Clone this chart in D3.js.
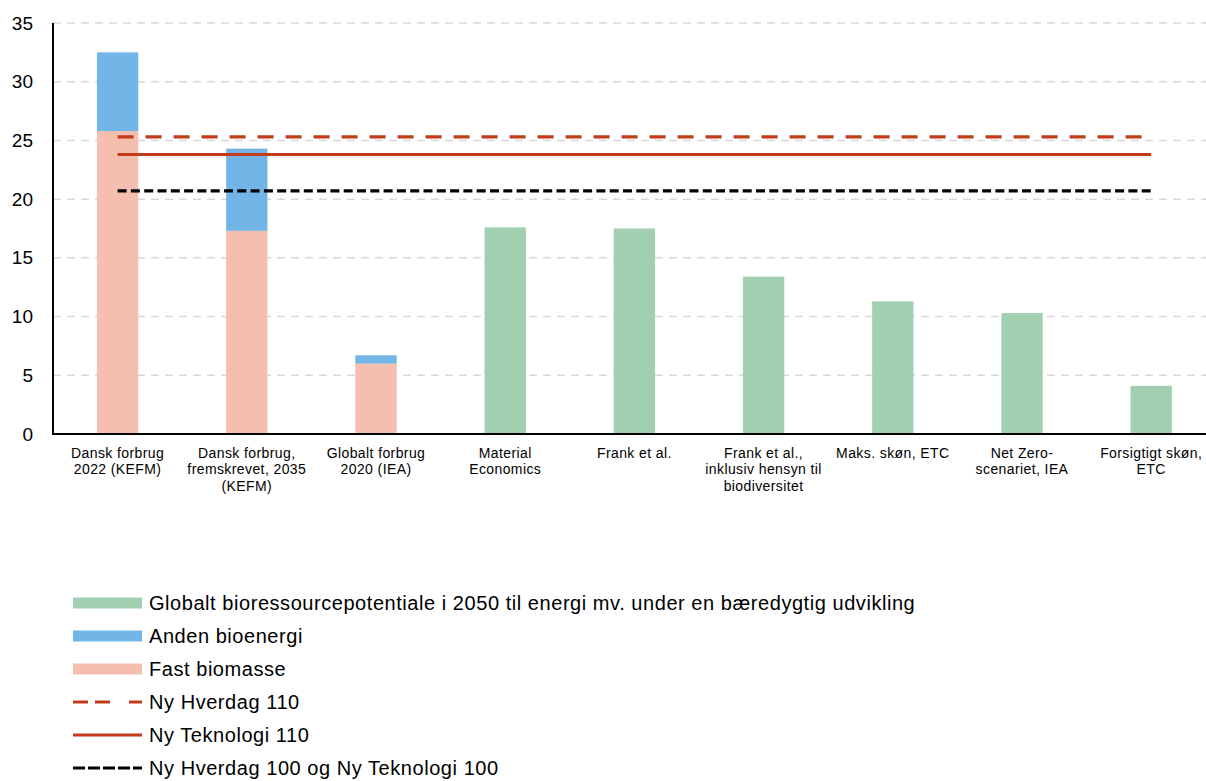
<!DOCTYPE html>
<html>
<head>
<meta charset="utf-8">
<script src="https://cdn.jsdelivr.net/npm/d3@7"></script>
<style>
  body { margin: 0; background: #fff; }
  svg { font-family: "Liberation Sans", Arial, sans-serif; }
</style>
</head>
<body>
<div id="chart"></div>
<script>
// Data
const categories = [
  ['Dansk forbrug', '2022 (KEFM)'],
  ['Dansk forbrug,', 'fremskrevet, 2035', '(KEFM)'],
  ['Globalt forbrug', '2020 (IEA)'],
  ['Material', 'Economics'],
  ['Frank et al.'],
  ['Frank et al.,', 'inklusiv hensyn til', 'biodiversitet'],
  ['Maks. skøn, ETC'],
  ['Net Zero-', 'scenariet, IEA'],
  ['Forsigtigt skøn,', 'ETC']
];
const fastBiomasse = [25.8, 17.3, 6.0, 0, 0, 0, 0, 0, 0];
const andenBioenergi = [6.7, 7.0, 0.7, 0, 0, 0, 0, 0, 0];
const globaltPotentiale = [0, 0, 0, 17.6, 17.5, 13.4, 11.3, 10.3, 4.1];
const nyHverdag110 = 25.3;
const nyTeknologi110 = 23.8;
const ny100 = 20.7;
const yTicks = [0, 5, 10, 15, 20, 25, 30, 35];

const COLORS = { green: '#a1d0b1', blue: '#73b5e6', pink: '#f5bfb0', red: '#c23b1a', black: '#000' };

const W = 1206, H = 781;
const margin = { left: 53, top: 23, bottom: 434 };

const svg = d3.select('#chart').append('svg').attr('width', W).attr('height', H);

const x = d3.scaleBand()
  .domain(categories.map((c, i) => i))
  .range([margin.left, margin.left + 9 * 129.2])
  .paddingInner(0.68).paddingOuter(0.34);

const y = d3.scaleLinear().domain([0, 35]).range([margin.bottom, margin.top]);

// Gridlines
svg.append('g').selectAll('line')
  .data(yTicks.slice(1))
  .join('line')
  .attr('x1', margin.left).attr('x2', W)
  .attr('y1', d => y(d)).attr('y2', d => y(d))
  .attr('stroke', '#d9d9d9').attr('stroke-width', 1.5)
  .attr('stroke-dasharray', '8,6');

// Bars
const bars = svg.append('g');
categories.forEach((c, i) => {
  const bx = x(i), bw = x.bandwidth();
  if (fastBiomasse[i] > 0) {
    bars.append('rect').attr('x', bx).attr('width', bw)
      .attr('y', y(fastBiomasse[i])).attr('height', y(0) - y(fastBiomasse[i]))
      .attr('fill', COLORS.pink);
  }
  if (andenBioenergi[i] > 0) {
    const top = fastBiomasse[i] + andenBioenergi[i];
    bars.append('rect').attr('x', bx).attr('width', bw)
      .attr('y', y(top)).attr('height', y(fastBiomasse[i]) - y(top))
      .attr('fill', COLORS.blue);
  }
  if (globaltPotentiale[i] > 0) {
    bars.append('rect').attr('x', bx).attr('width', bw)
      .attr('y', y(globaltPotentiale[i])).attr('height', y(0) - y(globaltPotentiale[i]))
      .attr('fill', COLORS.green);
  }
});

// Reference lines (from first to last category centre)
const x0 = x(0) + x.bandwidth() / 2;
const x1 = x(categories.length - 1) + x.bandwidth() / 2;
const refLines = [
  { v: nyHverdag110, color: COLORS.red, dash: '16,12' },
  { v: nyTeknologi110, color: COLORS.red, dash: null },
  { v: ny100, color: COLORS.black, dash: '9,4.3' }
];
svg.append('g').selectAll('line')
  .data(refLines)
  .join('line')
  .attr('x1', x0).attr('x2', x1)
  .attr('y1', d => y(d.v)).attr('y2', d => y(d.v))
  .attr('stroke', d => d.color).attr('stroke-width', 3.2)
  .attr('stroke-dasharray', d => d.dash);

// Axes
const yAxis = svg.append('g')
  .attr('transform', `translate(${margin.left},0)`)
  .call(d3.axisLeft(y).tickValues(yTicks).tickSize(0).tickPadding(20));
yAxis.select('.domain').attr('stroke', '#000').attr('stroke-width', 2)
  .attr('d', `M0,${y(35)}V${y(0)}`);
yAxis.selectAll('text').attr('font-size', '19px').attr('fill', '#000')
  .attr('font-family', '"Liberation Sans", Arial, sans-serif');

svg.append('line')
  .attr('x1', margin.left - 1).attr('x2', W)
  .attr('y1', y(0)).attr('y2', y(0))
  .attr('stroke', '#000').attr('stroke-width', 2);

// X labels
const xl = svg.append('g');
categories.forEach((lines, i) => {
  const cx = x(i) + x.bandwidth() / 2;
  const t = xl.append('text')
    .attr('x', cx)
    .attr('y', 458)
    .attr('text-anchor', 'middle')
    .attr('font-size', '14px')
    .attr('letter-spacing', '0.4px')
    .attr('fill', '#000');
  lines.forEach((ln, k) => {
    t.append('tspan').attr('x', cx).attr('dy', k === 0 ? 0 : 16.3).text(ln);
  });
});

// Legend
const legendItems = [
  { label: 'Globalt bioressourcepotentiale i 2050 til energi mv. under en bæredygtig udvikling', type: 'rect', color: COLORS.green },
  { label: 'Anden bioenergi', type: 'rect', color: COLORS.blue },
  { label: 'Fast biomasse', type: 'rect', color: COLORS.pink },
  { label: 'Ny Hverdag 110', type: 'line', color: COLORS.red, dash: '15,7,15,19' },
  { label: 'Ny Teknologi 110', type: 'line', color: COLORS.red, dash: null },
  { label: 'Ny Hverdag 100 og Ny Teknologi 100', type: 'line', color: COLORS.black, dash: '12,3' }
];
const lg = svg.append('g');
legendItems.forEach((d, i) => {
  const cy = 603 + i * 33;
  if (d.type === 'rect') {
    lg.append('rect').attr('x', 73).attr('y', cy - 5.5).attr('width', 69).attr('height', 11).attr('fill', d.color);
  } else {
    lg.append('line').attr('x1', 73).attr('x2', 142).attr('y1', cy).attr('y2', cy)
      .attr('stroke', d.color).attr('stroke-width', 3).attr('stroke-dasharray', d.dash);
  }
  lg.append('text').attr('x', 149).attr('y', cy + 7)
    .attr('font-size', '20px').attr('letter-spacing', '0.55px')
    .attr('fill', '#000').text(d.label);
});
</script>
</body>
</html>
